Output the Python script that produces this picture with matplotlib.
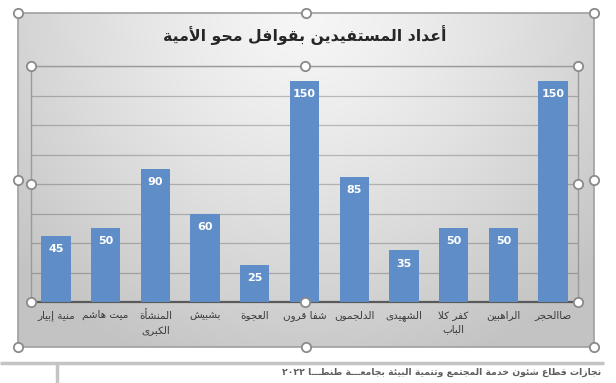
import numpy as np
import matplotlib
matplotlib.use('Agg')
import matplotlib.pyplot as plt
import re

# data
categories = ['منية إبيار', 'ميت هاشم', 'المنشأة\nالكبرى', 'بشبيش', 'العجوة', 'شفا قرون',
              'الدلجمون', 'الشهيدى', 'كفر كلا\nالباب', 'الراهبين', 'صاالحجر']
values = [45, 50, 90, 60, 25, 150, 85, 35, 50, 50, 150]
title = 'أعداد المستفيدين بقوافل محو الأمية'
footer = 'نجازات قطاع شئون خدمة المجتمع وتنمية البيئة بجامعـــة طنطـــا ٢٠٢٢'

# --- tiny arabic shaper (no arabic_reshaper / bidi available) ---
FORMS = {
    'ء': (0xFE80,), 'آ': (0xFE81, 0xFE82), 'أ': (0xFE83, 0xFE84), 'ؤ': (0xFE85, 0xFE86),
    'إ': (0xFE87, 0xFE88), 'ئ': (0xFE89, 0xFE8A, 0xFE8B, 0xFE8C), 'ا': (0xFE8D, 0xFE8E),
    'ب': (0xFE8F, 0xFE90, 0xFE91, 0xFE92), 'ة': (0xFE93, 0xFE94),
    'ت': (0xFE95, 0xFE96, 0xFE97, 0xFE98), 'ث': (0xFE99, 0xFE9A, 0xFE9B, 0xFE9C),
    'ج': (0xFE9D, 0xFE9E, 0xFE9F, 0xFEA0), 'ح': (0xFEA1, 0xFEA2, 0xFEA3, 0xFEA4),
    'خ': (0xFEA5, 0xFEA6, 0xFEA7, 0xFEA8), 'د': (0xFEA9, 0xFEAA), 'ذ': (0xFEAB, 0xFEAC),
    'ر': (0xFEAD, 0xFEAE), 'ز': (0xFEAF, 0xFEB0), 'س': (0xFEB1, 0xFEB2, 0xFEB3, 0xFEB4),
    'ش': (0xFEB5, 0xFEB6, 0xFEB7, 0xFEB8), 'ص': (0xFEB9, 0xFEBA, 0xFEBB, 0xFEBC),
    'ض': (0xFEBD, 0xFEBE, 0xFEBF, 0xFEC0), 'ط': (0xFEC1, 0xFEC2, 0xFEC3, 0xFEC4),
    'ظ': (0xFEC5, 0xFEC6, 0xFEC7, 0xFEC8), 'ع': (0xFEC9, 0xFECA, 0xFECB, 0xFECC),
    'غ': (0xFECD, 0xFECE, 0xFECF, 0xFED0), 'ف': (0xFED1, 0xFED2, 0xFED3, 0xFED4),
    'ق': (0xFED5, 0xFED6, 0xFED7, 0xFED8), 'ك': (0xFED9, 0xFEDA, 0xFEDB, 0xFEDC),
    'ل': (0xFEDD, 0xFEDE, 0xFEDF, 0xFEE0), 'م': (0xFEE1, 0xFEE2, 0xFEE3, 0xFEE4),
    'ن': (0xFEE5, 0xFEE6, 0xFEE7, 0xFEE8), 'ه': (0xFEE9, 0xFEEA, 0xFEEB, 0xFEEC),
    'و': (0xFEED, 0xFEEE), 'ى': (0xFEEF, 0xFEF0), 'ي': (0xFEF1, 0xFEF2, 0xFEF3, 0xFEF4),
}
LAMALEF = {'آ': (0xFEF5, 0xFEF6), 'أ': (0xFEF7, 0xFEF8), 'إ': (0xFEF9, 0xFEFA), 'ا': (0xFEFB, 0xFEFC)}
TATWEEL = 'ـ'


def joins_next(t):
    return t == TATWEEL or (t in FORMS and len(FORMS[t]) == 4)


def joining(t):
    return t == TATWEEL or (len(t) == 2) or (t in FORMS and len(FORMS[t]) > 1)


def shape_line(s):
    toks = []
    i = 0
    while i < len(s):
        if s[i] == 'ل' and i + 1 < len(s) and s[i + 1] in LAMALEF:
            toks.append(s[i:i + 2])
            i += 2
        else:
            toks.append(s[i])
            i += 1
    out = []
    for i, t in enumerate(toks):
        prev = i > 0 and joins_next(toks[i - 1]) and joining(t)
        nxt = joins_next(t) and i + 1 < len(toks) and joining(toks[i + 1])
        if len(t) == 2:
            out.append(chr(LAMALEF[t[1]][1 if prev else 0]))
        elif t in FORMS:
            f = FORMS[t]
            if len(f) == 1:
                out.append(chr(f[0]))
            elif len(f) == 2:
                out.append(chr(f[1 if prev else 0]))
            else:
                idx = {(False, False): 0, (True, False): 1, (False, True): 2, (True, True): 3}[(prev, nxt)]
                out.append(chr(f[idx]))
        else:
            out.append(t)
    logical = ''.join(out)
    # visual order: reverse, but keep digit runs left-to-right
    parts = re.split(r'([0-9\u0660-\u0669]+)', logical)
    parts = [p if re.fullmatch(r'[0-9\u0660-\u0669]+', p) else p[::-1] for p in parts]
    return ''.join(parts[::-1])


def ar(s):
    return '\n'.join(shape_line(line) for line in s.split('\n'))


W, H = 616, 383
fig = plt.figure(figsize=(W / 100, H / 100), dpi=100)
fig.patch.set_facecolor('white')

# chart area gradient background
bg = fig.add_axes([0, 0, 1, 1], zorder=-2)
bg.set_xlim(0, W)
bg.set_ylim(H, 0)
bg.axis('off')
cx0, cx1, cy0, cy1 = 18, 594, 13, 347
u, v = np.meshgrid(np.linspace(0, 1, 300), np.linspace(0, 1, 200))
d = np.sqrt(((u - 0.5) * 1.25) ** 2 + ((v - 0.0) * 0.75) ** 2)
shade = 0.965 - 0.20 * np.clip(d / 0.85, 0, 1) ** 1.3
img = np.dstack([shade, shade, shade])
bg.imshow(img, extent=(cx0, cx1, cy1, cy0), aspect='auto', interpolation='bilinear')
bg.add_patch(plt.Rectangle((cx0, cy0), cx1 - cx0, cy1 - cy0, fill=False, ec='#a0a0a0', lw=1.2))

# footer line and text
bg.plot([0, 604], [363, 363], color='#c4c4c4', lw=2.5, solid_capstyle='butt')
bg.plot([57, 57], [363, 383], color='#c4c4c4', lw=2.5, solid_capstyle='butt')
bg.text(601, 372, ar(footer), ha='right', va='center', fontsize=6.7, color='#5e5e5e',
        fontweight='bold', family='DejaVu Sans')

# plot area
ax = fig.add_axes([31 / W, (H - 302) / H, (578 - 31) / W, (302 - 66) / H])
ax.patch.set_alpha(0)
x = np.arange(len(categories))
bars = ax.bar(x, values, width=0.59, color='#5e8dc8', zorder=3)
ax.set_xlim(-0.5, len(categories) - 0.5)
ax.set_ylim(0, 160)
ax.set_yticks(np.arange(0, 161, 20))
ax.yaxis.grid(True, color='black', alpha=0.22, lw=0.9)
ax.set_axisbelow(True)
ax.tick_params(axis='y', left=False, labelleft=False)
ax.tick_params(axis='x', length=0, pad=6)
ax.set_xticks(x)
ax.set_xticklabels([ar(c) for c in categories], fontsize=7.5, color='#3a3a3a',
                   family='DejaVu Sans', linespacing=1.5)
for s in ['left', 'right', 'top']:
    ax.spines[s].set_color('#9a9a9a')
    ax.spines[s].set_linewidth(1.0)
ax.spines['bottom'].set_color('#5a5a5a')
ax.spines['bottom'].set_linewidth(1.6)

for b, val in zip(bars, values):
    ax.annotate(str(val), (b.get_x() + b.get_width() / 2, val), xytext=(0, -9.5),
                textcoords='offset points', ha='center', va='center',
                color='white', fontsize=8, fontweight='bold', zorder=4)

fig.text(305 / W, 1 - 35 / H, ar(title), ha='center', va='center', fontsize=11.3,
         fontweight='bold', color='#262626', family='DejaVu Sans')

# selection handles
ov = fig.add_axes([0, 0, 1, 1], zorder=10)
ov.set_xlim(0, W)
ov.set_ylim(H, 0)
ov.axis('off')
ov.patch.set_alpha(0)
hx = [cx0, (cx0 + cx1) / 2, cx1, cx0, cx1, cx0, (cx0 + cx1) / 2, cx1]
hy = [cy0, cy0, cy0, (cy0 + cy1) / 2, (cy0 + cy1) / 2, cy1, cy1, cy1]
ov.scatter(hx, hy, s=45, facecolor='white', edgecolor='#8a8a8a', lw=1.3, zorder=11)
px0, px1, py0, py1 = 31, 578, 66, 302
hx = [px0, (px0 + px1) / 2, px1, px0, px1, px0, (px0 + px1) / 2, px1]
hy = [py0, py0, py0, (py0 + py1) / 2, (py0 + py1) / 2, py1, py1, py1]
ov.scatter(hx, hy, s=45, facecolor='white', edgecolor='#8a8a8a', lw=1.3, zorder=11)

fig.savefig('out.png', dpi=100)
